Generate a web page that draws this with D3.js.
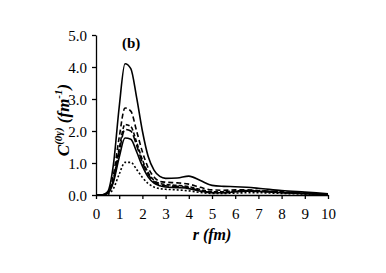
<!DOCTYPE html>
<html>
<head>
<meta charset="utf-8">
<script src="https://cdn.jsdelivr.net/npm/d3@7"></script>
<style>
body { margin: 0; background: #fff; }
</style>
</head>
<body>
<svg id="chart" width="386" height="273"></svg>
<script>
var r_vals = [0, 0.25, 0.5, 0.75, 1.0, 1.25, 1.5, 1.75, 2.0, 2.25, 2.5, 2.75, 3.0, 3.5, 4.0, 4.5, 5.0, 5.5, 6.0, 6.5, 7.0, 8.0, 9.0, 10.0]
var c_solid1 = [0, 0, 0.1, 0.95, 2.75, 4.1, 3.95, 3.05, 2.0, 1.2, 0.78, 0.58, 0.52, 0.53, 0.59, 0.45, 0.3, 0.27, 0.26, 0.24, 0.21, 0.14, 0.09, 0.04]
var c_dash1 = [0, 0, 0.07, 0.62, 1.8, 2.72, 2.62, 2.0, 1.35, 0.85, 0.56, 0.43, 0.4, 0.38, 0.34, 0.24, 0.16, 0.15, 0.16, 0.16, 0.14, 0.1, 0.06, 0.03]
var c_dash2 = [0, 0, 0.06, 0.5, 1.45, 2.2, 2.14, 1.65, 1.1, 0.7, 0.46, 0.36, 0.33, 0.3, 0.26, 0.17, 0.1, 0.1, 0.13, 0.14, 0.13, 0.09, 0.05, 0.02]
var c_dash3 = [0, 0, 0.05, 0.46, 1.35, 2.05, 2.0, 1.55, 1.02, 0.64, 0.42, 0.32, 0.29, 0.27, 0.23, 0.14, 0.08, 0.08, 0.11, 0.13, 0.12, 0.08, 0.05, 0.02]
var c_solid2 = [0, 0, 0.05, 0.4, 1.18, 1.78, 1.74, 1.35, 0.9, 0.56, 0.37, 0.29, 0.25, 0.23, 0.2, 0.12, 0.07, 0.07, 0.1, 0.12, 0.11, 0.07, 0.04, 0.02]
var c_dot = [0, 0, 0.02, 0.2, 0.65, 1.02, 1.02, 0.8, 0.55, 0.36, 0.25, 0.2, 0.18, 0.16, 0.13, 0.08, 0.05, 0.05, 0.06, 0.07, 0.07, 0.05, 0.03, 0.01]

var series_list = [
    {vals: c_solid1, dash: null},
    {vals: c_dash1, dash: "5,3"},
    {vals: c_dash2, dash: "4,2"},
    {vals: c_dash3, dash: "7,3"},
    {vals: c_solid2, dash: null},
    {vals: c_dot, dash: "2,2"}
]
var x_ticks = d3.range(0, 11)
var y_ticks = [0, 1, 2, 3, 4, 5]

var svg = d3.select("#chart")
var x = d3.scaleLinear().domain([0, 10]).range([96, 328])
var y = d3.scaleLinear().domain([0, 5]).range([195, 35])

// axes
var xAxis = svg.append("g")
    .attr("transform", "translate(0,195)")
    .call(d3.axisBottom(x).tickValues(x_ticks).tickSize(4).tickSizeOuter(0).tickFormat(d3.format("d")))
var yAxis = svg.append("g")
    .attr("transform", "translate(96,0)")
    .call(d3.axisLeft(y).tickValues(y_ticks).tickSize(4).tickSizeOuter(0).tickFormat(d3.format(".1f")))
svg.selectAll(".domain, .tick line").attr("stroke", "#000").attr("stroke-width", 1.3)
xAxis.selectAll("text").attr("font-size", 15).attr("y", 13).attr("dy", "0.71em").attr("fill", "#000")
yAxis.selectAll("text").attr("font-size", 15).attr("x", -9).attr("dy", "0.35em").attr("fill", "#000")

// curves
var line = d3.line()
    .x(function(d, i){ return x(r_vals[i]) })
    .y(function(d){ return y(d) })
    .curve(d3.curveMonotoneX)
svg.append("g").selectAll("path")
    .data(series_list)
    .join("path")
    .attr("d", function(s){ return line(s.vals) })
    .attr("fill", "none")
    .attr("stroke", "#000")
    .attr("stroke-width", 1.6)
    .attr("stroke-dasharray", function(s){ return s.dash })

// labels
svg.append("text").attr("x", 122).attr("y", 48)
    .attr("font-size", 15).attr("font-weight", "bold").text("(b)")

svg.append("text").attr("x", 212).attr("y", 240)
    .attr("text-anchor", "middle").attr("font-size", 16)
    .attr("font-weight", "bold").attr("font-style", "italic")
    .text("r (fm)")

var yl = svg.append("text")
    .attr("transform", "translate(69,120) rotate(-90)")
    .attr("text-anchor", "middle").attr("font-size", 17)
    .attr("font-weight", "bold").attr("font-style", "italic")
yl.append("tspan").text("C")
yl.append("tspan").attr("font-size", 11).attr("dy", -7).text("(0\u03b3)")
yl.append("tspan").attr("dy", 7).text(" (fm")
yl.append("tspan").attr("font-size", 11).attr("dy", -7).text("-1")
yl.append("tspan").attr("dy", 7).text(")")

svg.selectAll("text").style("font-family", "'Liberation Serif'")
</script>
</body>
</html>
